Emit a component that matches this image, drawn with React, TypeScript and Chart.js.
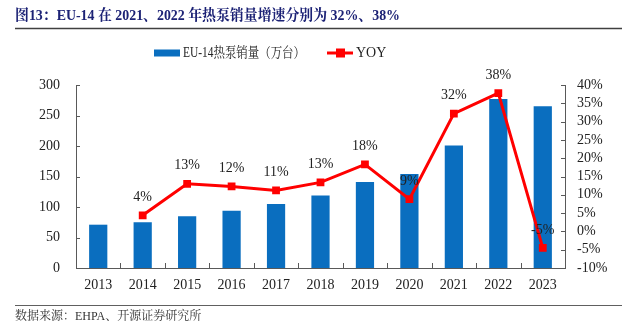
import React, { useEffect, useRef } from "react";
import { Chart, registerables } from "chart.js";

Chart.register(...registerables);

const years = ["2013", "2014", "2015", "2016", "2017", "2018", "2019", "2020", "2021", "2022", "2023"];
const sales = [71, 75, 85, 94, 105, 119, 141, 154, 201, 277, 265];
const yoy = [null, 4.4, 13.0, 12.3, 11.2, 13.4, 18.3, 8.8, 32.2, 37.8, -4.5];
const yoyLabels = ["", "4%", "13%", "12%", "11%", "13%", "18%", "9%", "32%", "38%", "-5%"];
const leftRange = { min: 0, max: 300, step: 50 };
const rightRange = { min: -10, max: 40, step: 5 };

const titleText = "图13：EU-14 在 2021、2022 年热泵销量增速分别为 32%、38%";
const sourceText = "数据来源：EHPA、开源证券研究所";
const salesLabel = "EU-14热泵销量（万台）";
const yoyLabel = "YOY";

const FONT = '"Liberation Serif", "Times New Roman", "Noto Serif CJK SC", "Noto Sans CJK SC", serif';
const BLUE = "#0A6EBF";
const RED = "#FF0000";
const AXIS = "#595959";
const TEXT = "#222222";

const decorPlugin = {
  id: "decor",
  afterDatasetsDraw(chart: any) {
    const ctx = chart.ctx;
    const meta = chart.getDatasetMeta(1);
    ctx.save();
    ctx.font = `14px ${FONT}`;
    ctx.fillStyle = TEXT;
    ctx.textAlign = "center";
    ctx.textBaseline = "middle";
    meta.data.forEach((pt: any, i: number) => {
      if (yoy[i] === null || !yoyLabels[i]) return;
      ctx.fillText(yoyLabels[i], pt.x, pt.y - 18);
    });
    ctx.restore();
  },
  afterDraw(chart: any) {
    const ctx = chart.ctx;
    const area = chart.chartArea;
    const W = chart.width;
    ctx.save();
    // title
    ctx.font = `bold 15px ${FONT}`;
    ctx.fillStyle = "#1C2275";
    ctx.textAlign = "left";
    ctx.textBaseline = "middle";
    ctx.fillText(titleText, 15, 16, 385);
    ctx.strokeStyle = "#404040";
    ctx.lineWidth = 1.5;
    ctx.beginPath();
    ctx.moveTo(15, 28.5);
    ctx.lineTo(W - 15, 28.5);
    ctx.stroke();
    // footer
    ctx.beginPath();
    ctx.lineWidth = 1.2;
    ctx.strokeStyle = "#606060";
    ctx.moveTo(15, 305.5);
    ctx.lineTo(W - 15, 305.5);
    ctx.stroke();
    ctx.font = `12px ${FONT}`;
    ctx.fillStyle = "#333333";
    ctx.fillText(sourceText, 15, 317);
    // legend
    const ly = 53;
    ctx.fillStyle = BLUE;
    ctx.fillRect(154, ly - 3.5, 26, 7);
    ctx.font = `14px ${FONT}`;
    ctx.fillStyle = TEXT;
    ctx.fillText(salesLabel, 183, ly, 122);
    ctx.strokeStyle = RED;
    ctx.lineWidth = 3;
    ctx.beginPath();
    ctx.moveTo(327, ly);
    ctx.lineTo(353, ly);
    ctx.stroke();
    ctx.fillStyle = RED;
    ctx.fillRect(336, ly - 4.5, 9, 9);
    ctx.fillStyle = TEXT;
    ctx.fillText(yoyLabel, 356, ly);
    // inward tick marks
    ctx.strokeStyle = AXIS;
    ctx.lineWidth = 1;
    const y = chart.scales.y;
    const y1 = chart.scales.y1;
    const x = chart.scales.x;
    y.ticks.forEach((t: any) => {
      const py = Math.round(y.getPixelForValue(t.value)) + 0.5;
      ctx.beginPath();
      ctx.moveTo(area.left, py);
      ctx.lineTo(area.left + 4, py);
      ctx.stroke();
    });
    y1.ticks.forEach((t: any) => {
      const py = Math.round(y1.getPixelForValue(t.value)) + 0.5;
      ctx.beginPath();
      ctx.moveTo(area.right, py);
      ctx.lineTo(area.right - 4, py);
      ctx.stroke();
    });
    for (let i = 1; i < years.length; i++) {
      const px = Math.round((x.getPixelForValue(i - 1) + x.getPixelForValue(i)) / 2) + 0.5;
      ctx.beginPath();
      ctx.moveTo(px, area.bottom);
      ctx.lineTo(px, area.bottom - 5);
      ctx.stroke();
    }
    ctx.restore();
  },
};

export default function App() {
  const ref = useRef<HTMLCanvasElement | null>(null);
  useEffect(() => {
    document.body.style.margin = "0";
    const canvas = ref.current;
    if (!canvas) return;
    const chart = new Chart(canvas, {
      type: "bar",
      data: {
        labels: years,
        datasets: [
          {
            type: "bar",
            label: salesLabel,
            data: sales,
            backgroundColor: BLUE,
            borderWidth: 0,
            barPercentage: 0.41,
            categoryPercentage: 1,
            yAxisID: "y",
            order: 2,
          },
          {
            type: "line",
            label: yoyLabel,
            data: yoy as any,
            borderColor: RED,
            backgroundColor: RED,
            borderWidth: 3,
            pointStyle: "rect",
            pointRadius: 5.5,
            pointBorderWidth: 0,
            pointBackgroundColor: RED,
            tension: 0,
            spanGaps: false,
            yAxisID: "y1",
            order: 1,
          },
        ],
      },
      options: {
        responsive: false,
        animation: false,
        layout: { padding: { top: 85, left: 0, right: 0, bottom: 0 } },
        plugins: {
          legend: { display: false },
          tooltip: { enabled: false },
        },
        scales: {
          x: {
            offset: true,
            grid: { display: false, drawTicks: false },
            border: { display: true, color: AXIS, width: 1 },
            ticks: { color: TEXT, font: { family: FONT, size: 14 }, padding: 9, maxRotation: 0, autoSkip: false },
            afterFit: (s: any) => { s.height = 56; },
          },
          y: {
            position: "left",
            min: leftRange.min,
            max: leftRange.max,
            grid: { display: false, drawTicks: false },
            border: { display: true, color: AXIS, width: 1 },
            ticks: { stepSize: leftRange.step, color: TEXT, font: { family: FONT, size: 14 }, padding: 16, autoSkip: false },
            afterFit: (s: any) => { s.width = 76; },
          },
          y1: {
            position: "right",
            min: rightRange.min,
            max: rightRange.max,
            grid: { display: false, drawTicks: false },
            border: { display: true, color: AXIS, width: 1 },
            ticks: {
              stepSize: rightRange.step,
              autoSkip: false,
              color: TEXT,
              font: { family: FONT, size: 14 },
              padding: 12,
              callback: (v: any) => `${v}%`,
            },
            afterFit: (s: any) => { s.width = 72; },
          },
        },
      },
      plugins: [decorPlugin],
    });
    return () => chart.destroy();
  }, []);
  return (
    <div style={{ width: 637, height: 324, background: "#fff" }}>
      <canvas ref={ref} width={637} height={324} />
    </div>
  );
}
